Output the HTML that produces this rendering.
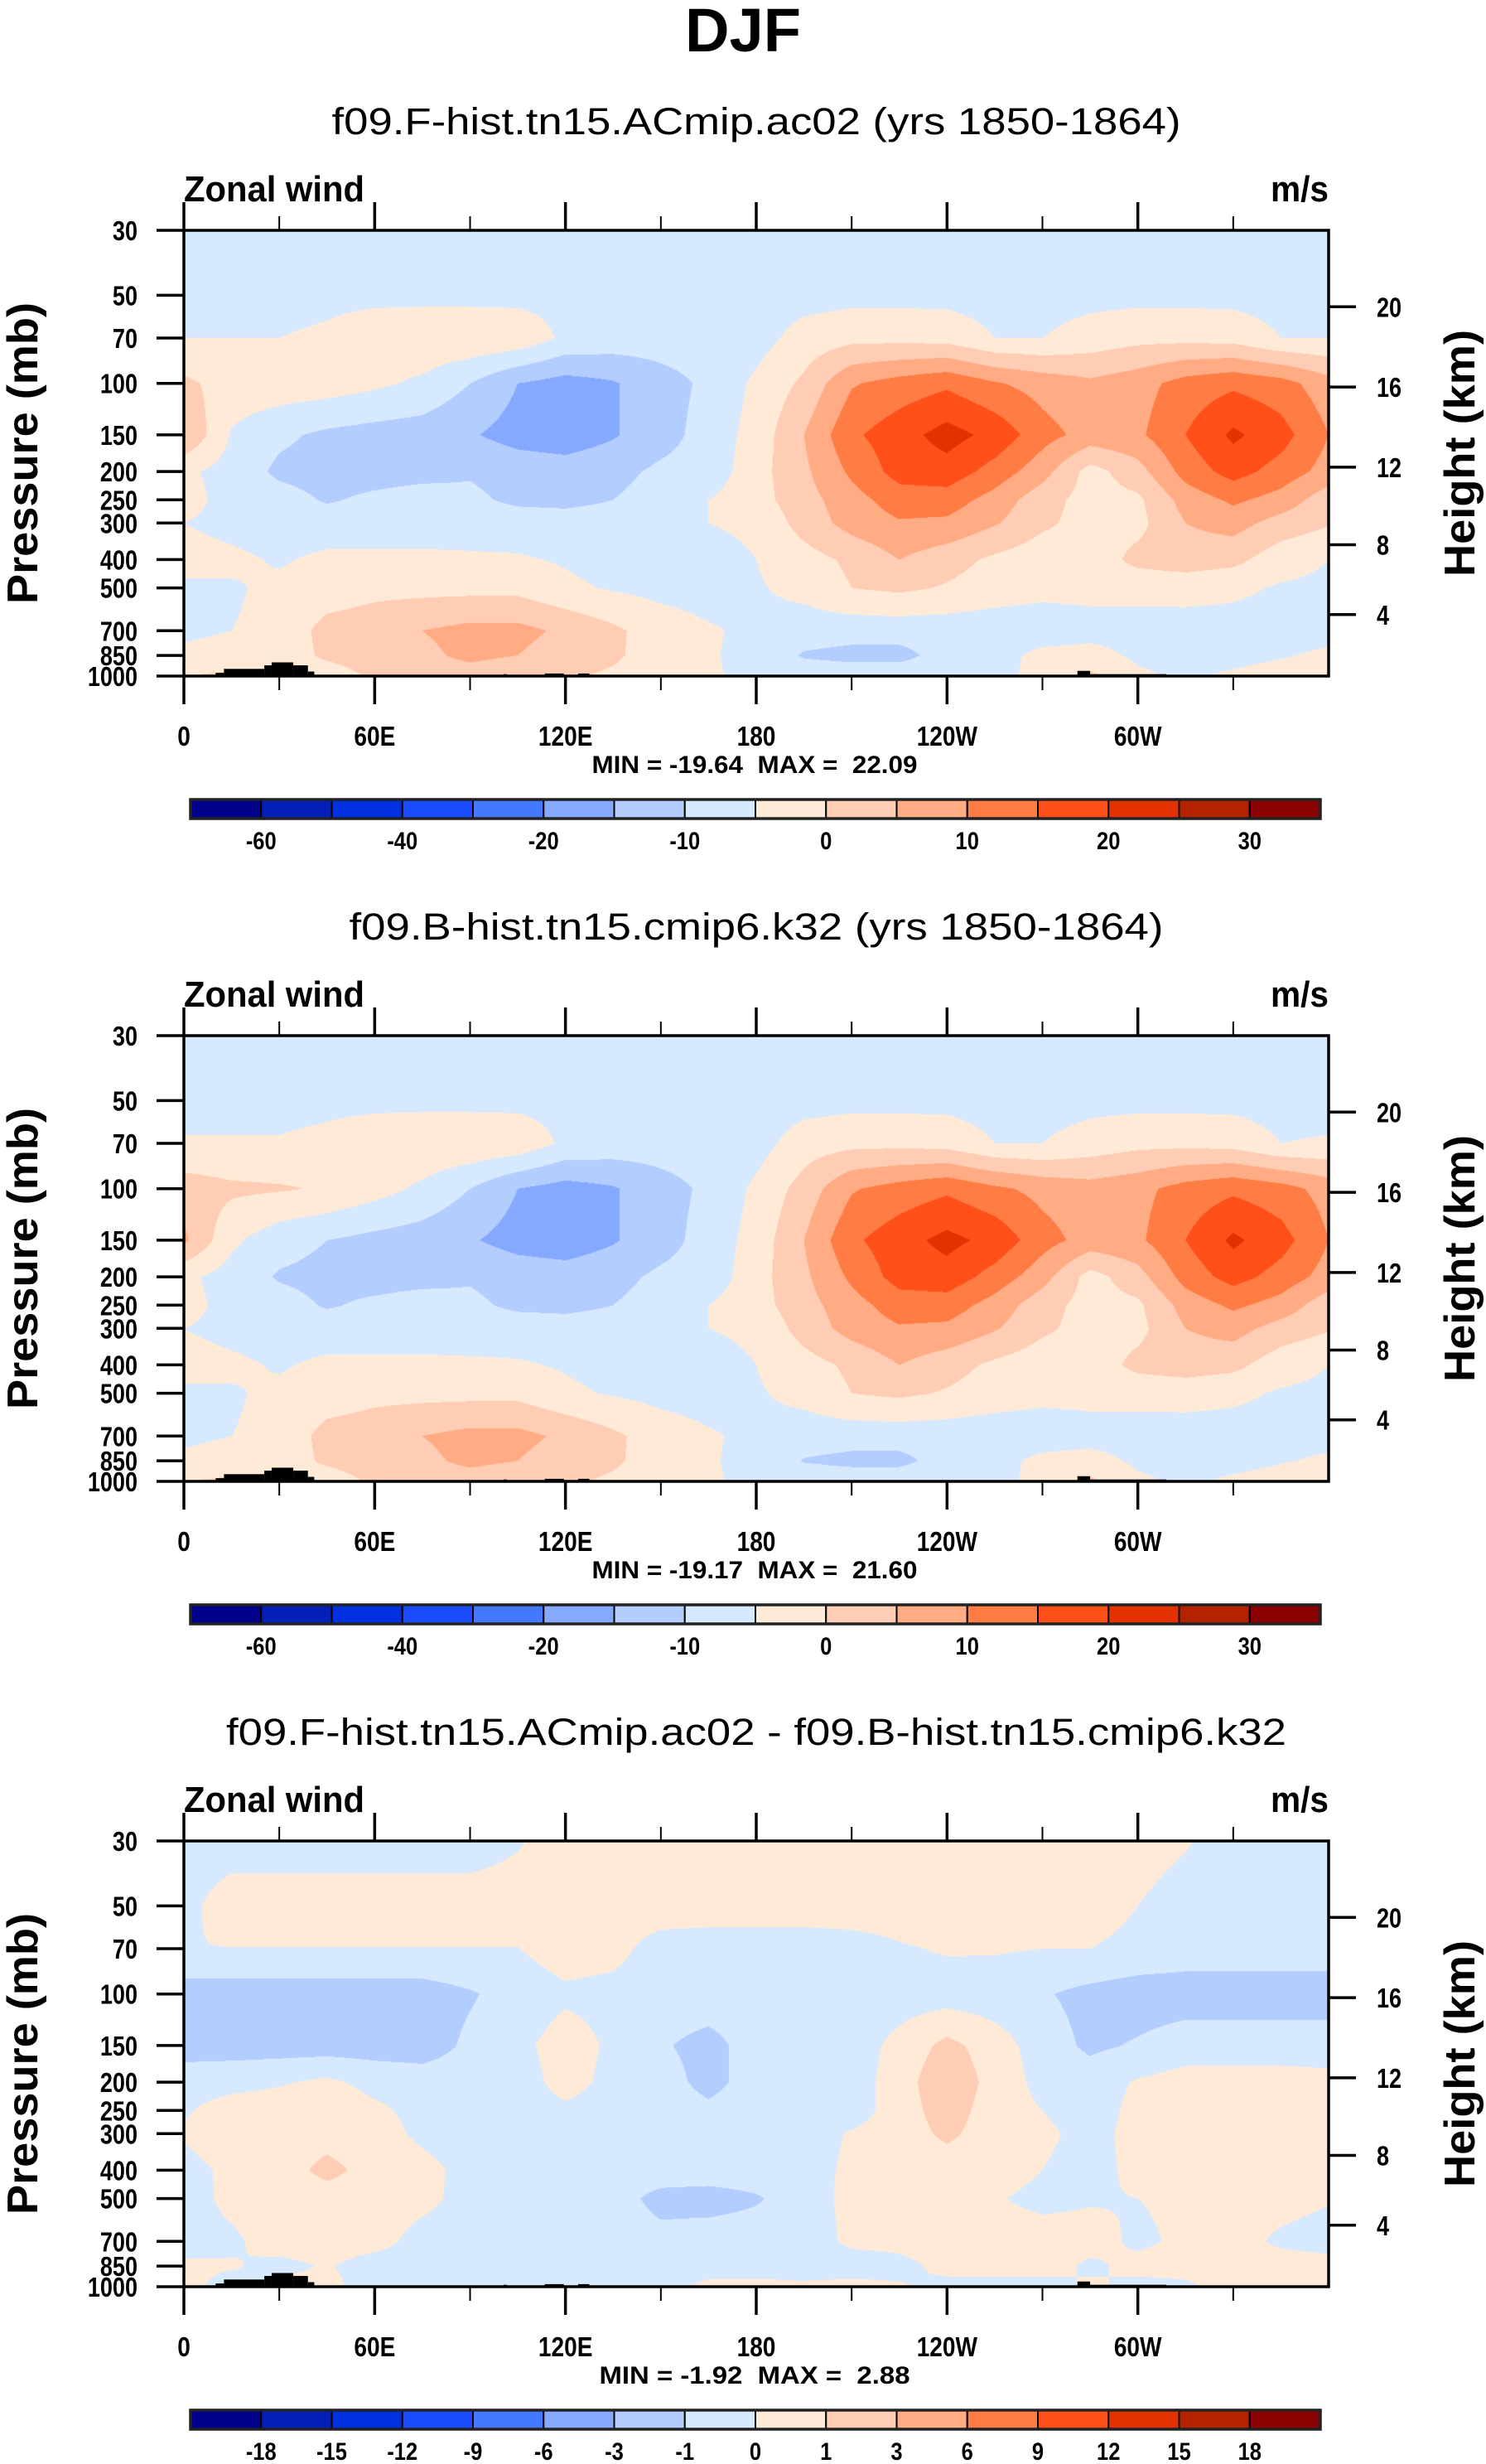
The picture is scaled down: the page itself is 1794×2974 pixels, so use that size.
<!DOCTYPE html>
<html><head><meta charset="utf-8"><style>
html,body{margin:0;padding:0;background:#fff;}
#wrap{position:relative;width:1794px;height:2974px;overflow:hidden;}
canvas{position:absolute;}
svg{position:absolute;left:0;top:0;}
text{font-family:"Liberation Sans",sans-serif;white-space:pre;}
</style></head><body>
<div id="wrap">
<canvas id="c0" width="1382" height="538" style="left:222px;top:278px"></canvas>
<canvas id="c1" width="1382" height="538" style="left:222px;top:1250px"></canvas>
<canvas id="c2" width="1382" height="538" style="left:222px;top:2222px"></canvas>
<svg id="svg" width="1794" height="2974" xmlns="http://www.w3.org/2000/svg">
<text x="897" y="62" text-anchor="middle" font-size="74" font-weight="bold" textLength="140" lengthAdjust="spacingAndGlyphs">DJF</text>
</svg>
</div>
<script>
// ---- data ----
const lons = [0,15,30,45,60,75,90,105,120,135,150,165,180,195,210,225,240,255,270,285,300,315,330,345,360];
const pressures = [30,50,70,100,150,200,250,300,400,500,700,850,1000];
const pTicks = [30,50,70,100,150,200,250,300,400,500,700,850,1000];
const hTicks = [4,8,12,16,20];
const lonTicks = [0,60,120,180,240,300];
const lonTickLabels = ["0","60E","120E","180","120W","60W"];
const lonMinor = [30,90,150,210,270,330];
const colors = ["#00008b","#0320b8","#0030e0","#1a4cff","#4479ff","#84a9ff","#b4cdff","#d6e9ff","#ffead8","#ffccb4","#ffab84","#ff7c45","#ff5019","#e33200","#b52200","#8b0000"];
const levelsA = [-60,-50,-40,-30,-20,-15,-10,-5,0,5,10,15,20,25,30];
const labelsA = ["-60","","-40","","-20","","-10","","0","","10","","20","","30"];
const levelsB = [-18,-15,-12,-9,-6,-3,-1,0,1,3,6,9,12,15,18];
const labelsB = ["-18","-15","-12","-9","-6","-3","-1","0","1","3","6","9","12","15","18"];
const titles = ["f09.F-hist.tn15.ACmip.ac02 (yrs 1850-1864)","f09.B-hist.tn15.cmip6.k32 (yrs 1850-1864)","f09.F-hist.tn15.ACmip.ac02 - f09.B-hist.tn15.cmip6.k32"];
const minmax = ["MIN = -19.64  MAX =  22.09","MIN = -19.17  MAX =  21.60","MIN = -1.92  MAX =  2.88"];
const topo = [[10,12.6,975],[12.6,25.3,945],[25.3,27.6,919],[27.6,34.4,898],[34.4,39,919],[39,41,965],[100.5,101.5,985],[113.5,119.5,980],[124,127.5,980],[281,285,960],[285,309,985]];

const p1 = [
[-8,-8,-8,-8,-8,-8,-8,-8,-8,-8,-8,-8,-8,-8,-8,-8,-8,-8,-8,-8,-8,-8,-8,-8,-8],
[-7,-7,-7,-6.5,-6.5,-6.5,-6.5,-6.5,-6.5,-5.5,-7,-7.5,-7.5,-7,-6.5,-6.5,-6.5,-7,-7,-6.5,-6.5,-6.5,-6.5,-7,-7],
[-5,-5,-5,-4,-1.5,-1,-1,-1.5,-6,-7,-7.5,-7.5,-7,-3,-1.5,-1.5,-2,-5,-5,-3,-1.5,-1.5,-2,-5,-5],
[1,-2,-2,-2.5,-4,-6,-10,-15,-17,-15.5,-12,-9,-4,1,9.5,12,14,10.5,8,6,8,12,14,12,7],
[5,-5.5,-9,-11,-12,-12.5,-14.5,-17,-18,-15.5,-12,-8,-3,5,14,18,22,18.5,12,8,9,15,21,17,10],
[-4,-7,-11,-12,-12,-11.5,-10.5,-12,-12.5,-11.5,-9,-8,-2,4,11,17,18,13,7,-2,3,12,17,13,8],
[-3,-7,-8,-10.5,-9,-8,-9,-11,-11.5,-10,-8,-5,-2,3,8,12.5,12.5,8,2,-2,-1,7,11,8,2],
[-5,-6.5,-7.5,-7.5,-7.5,-7.5,-7.5,-7.5,-7.5,-7.5,-7.5,-5,-4,2,7,9.5,9,5.5,1,-2,-1.5,5,7,3,0.5],
[-3,-4,-5.5,-4,-4,-4,-4.2,-4.5,-5.5,-7,-7.5,-7,-5,-2,1,5,2,-1,-3,-3,1.5,2.5,1.5,-3,-5],
[-6,-5.5,-4,-3,-1.5,-1.5,-1.5,-1.5,-4,-5.5,-6.5,-7,-5.5,-3.5,0,1,-0.5,-2.5,-3.5,-3.5,-3.5,-3,-4,-5.5,-6],
[-6,-5,-4,2,3,5,6.5,6.5,4,1,-2.5,-4.5,-6,-7.5,-8,-8,-8,-8,-8,-7,-7,-7.5,-7,-7,-7],
[-4,-3,-3,1,3,4,6,5,2.5,1,-3,-4.5,-6.5,-10.5,-11.5,-11.5,-8,-7,-3.5,-3,-6,-7,-7,-5.5,-4],
[0,1,1,-3,1,3,3,2,1,-1,-3,-4.5,-6,-7,-7,-7,-7,-7,-3,1,-4,-6,-4,-2.5,-2]
];
const p2 = [
[-8,-8,-8,-8,-8,-8,-8,-8,-8,-8,-8,-8,-8,-8,-8,-8,-8,-8,-8,-8,-8,-8,-8,-8,-8],
[-7,-7,-7,-6.5,-6.5,-6.5,-6.5,-6.5,-6.5,-5.7,-7,-7.5,-7.5,-7,-6.5,-6.5,-6.5,-7,-7,-6.5,-6.5,-6.5,-6.5,-7,-7],
[-4.5,-4.5,-4.5,-3.5,-1.5,-1,-1,-1.5,-6,-7,-7.5,-7.5,-7,-2.5,-1.5,-1.5,-2,-5,-5,-3,-1.5,-1.5,-2,-5,-4.5],
[2.5,1,0.5,-0.5,-3,-6,-10,-15,-17,-15.5,-12,-9,-4,2,9.5,12,14,11,8.5,7,8.5,12,14,12,8],
[6,-4,-8,-10,-11.5,-12.5,-14.5,-17,-18,-15.5,-12,-8,-3,5,14,18,21.5,18.5,12,8,9,15,21,17,10],
[-4,-7,-10.5,-11.5,-12,-11.5,-10.5,-12,-12.5,-11.5,-9,-8,-2,4,11,17,18,13,7,-2,3,12,17,13,8],
[-3,-7,-8,-10.5,-9,-8,-9,-11,-11.5,-10,-8,-5,-2,3,8,12.5,12.5,8,2,-2,-1,7,11,8,2],
[-5,-6.5,-7.5,-7.5,-7.5,-7.5,-7.5,-7.5,-7.5,-7.5,-7.5,-5,-4,2,7,9.5,9,5.5,1,-2,-1.5,5,7,3,0.5],
[-3,-4,-5.5,-4,-4,-4,-4.2,-4.5,-5.5,-7,-7.5,-7,-5,-2,1,5,2,-1,-3,-3,1.5,2.5,1.5,-3,-5],
[-6,-5.5,-4,-3,-1.5,-1.5,-1.5,-1.5,-4,-5.5,-6.5,-7,-5.5,-3.5,0,1,-0.5,-2.5,-3.5,-3.5,-3.5,-3,-4,-5.5,-6],
[-6,-5,-4,2,3,5,6.5,6.5,4,1,-2.5,-4.5,-6,-7.5,-8,-8,-8,-8,-8,-7,-7,-7.5,-7,-7,-7],
[-4,-3,-3,1,3,4,6,5,2.5,1,-3,-4.5,-6.5,-10.3,-11.3,-11.3,-8,-7,-3.5,-3,-6,-7,-7,-5.5,-4],
[0,1,1,-3,1,3,3,2,1,-1,-3,-4.5,-6,-7,-7,-7,-7,-7,-3,1,-4,-6,-4,-2.5,-2]
];
const p3 = [
[-0.5,-0.5,-0.5,-0.5,-0.5,-0.5,-0.5,-0.1,0.5,0.5,0.5,0.5,0.5,0.5,0.5,0.5,0.5,0.5,0.5,0.5,0.5,0.1,-0.5,-0.5,-0.5],
[-0.3,0.5,0.5,0.5,0.5,0.5,0.5,0.5,0.5,0.5,0.5,0.5,0.5,0.5,0.5,0.5,0.5,0.5,0.5,0.5,0.0,-0.5,-0.5,-0.5,-0.5],
[-0.02,-0.02,-0.02,-0.02,-0.02,-0.02,-0.02,-0.02,0.5,0.3,-0.4,-0.5,-0.5,-0.5,-0.4,-0.1,0.1,0.1,0,0,-0.3,-0.5,-0.5,-0.5,-0.5],
[-1.5,-1.5,-1.5,-1.5,-1.5,-1.5,-1.1,-0.6,-0.2,-0.3,-0.5,-0.5,-0.5,-0.5,-0.5,-0.5,-0.5,-0.6,-0.9,-1.3,-1.5,-1.5,-1.5,-1.5,-1.5],
[-1.5,-1.5,-1.5,-1.5,-1.5,-1.5,-0.8,-0.3,0.5,-0.2,-0.9,-1.3,-0.6,-0.8,-0.5,0.3,1.3,0.5,-0.5,-1.2,-0.9,-0.5,-0.5,-0.5,-0.5],
[-0.4,-0.3,-0.1,0.2,-0.3,-0.5,-0.5,-0.5,0.4,-0.3,-0.6,-1.3,-0.6,-0.5,-0.5,0.5,1.8,0.6,-0.3,-0.5,0.1,0.4,0.4,0.4,0.3],
[-0.1,0.4,0.5,0.6,0.2,-0.3,-0.5,-0.5,-0.2,-0.5,-0.5,-0.8,-0.5,-0.5,-0.5,0.5,1.5,0.5,0,-0.5,0.3,0.5,0.5,0.5,0.4],
[0.1,0.5,0.5,0.6,0.4,-0.2,-0.5,-0.5,-0.5,-0.5,-0.5,-0.5,-0.5,-0.5,0.1,0.5,1.2,0.5,0.2,-0.3,0.3,0.5,0.5,0.5,0.5],
[-0.3,0.2,0.5,1.3,0.6,0.3,-0.3,-0.5,-0.5,-0.5,-0.5,-0.5,-0.5,-0.4,0.2,0.5,0.5,0.5,0,-0.4,0.3,0.1,0.5,0.5,0.5],
[-0.5,0.3,0.5,0.5,0.5,0.3,-0.4,-0.5,-0.5,-0.6,-1.3,-1.4,-1.1,-0.5,0.3,0.5,0.4,0.1,-0.3,-0.1,0,0.2,0.5,0.4,0.1],
[-0.5,-0.2,0.5,0.5,0.4,-0.4,-0.5,-0.5,-0.5,-0.5,-0.7,-0.5,-0.5,-0.5,0.2,0.3,0.5,0.5,0.5,0.4,-0.2,0.2,0.4,-0.2,-0.5],
[0.2,0.1,-0.3,0.1,-0.5,-0.5,-0.5,-0.5,-0.5,-0.5,-0.5,-0.5,-0.5,-0.5,-0.5,-0.3,0.3,0.5,0.5,-0.2,0.3,0.4,0.5,0.5,0.5],
[0.3,-0.4,0.3,0.3,-0.5,-0.5,-0.5,-0.5,-0.5,-0.5,-0.5,0.3,0.3,0.2,0.3,0.1,-0.3,-0.5,-0.5,0.2,-0.3,-0.2,0.4,0.5,0.5]
];
const panelData = [p1,p2,p3];

// ---- geometry ----
const PX0=222, PX1=1604, PY0=278, PY1=816, OFF=972;
const W=PX1-PX0, H=PY1-PY0;
function xScale(lon){return PX0 + lon/360*W;}
function pFrac(p){return Math.log(p/30)/Math.log(1000/30);}
function yScale(p,off){return PY0+off+pFrac(p)*H;}
function zToP(zkm){const z=zkm*1000; return z<=11000?1013.25*Math.pow(1-2.25577e-5*z,5.25588):226.32*Math.exp(-(z-11000)/6341.6);}
function hexRGB(h){return [parseInt(h.slice(1,3),16),parseInt(h.slice(3,5),16),parseInt(h.slice(5,7),16)];}
const rgb = colors.map(hexRGB);

function renderField(ci){
  const data=panelData[ci], levels=ci<2?levelsA:levelsB;
  const cv=document.getElementById('c'+ci), ctx=cv.getContext('2d');
  const img=ctx.createImageData(W,H), d=img.data;
  const rowF=pressures.map(p=>pFrac(p)*H);
  const nL=lons.length;
  for(let y=0;y<H;y++){
    let r=0; while(r<rowF.length-2 && rowF[r+1]<y+0.5) r++;
    const ty=Math.min(1,Math.max(0,(y+0.5-rowF[r])/(rowF[r+1]-rowF[r])));
    const A=data[r], B=data[r+1];
    for(let x=0;x<W;x++){
      const lf=(x+0.5)/W*360;
      let c=Math.min(nL-2,Math.floor(lf/15));
      const tx=(lf-lons[c])/(lons[c+1]-lons[c]);
      const v=(A[c]*(1-tx)+A[c+1]*tx)*(1-ty)+(B[c]*(1-tx)+B[c+1]*tx)*ty;
      let k=0; while(k<levels.length && v>=levels[k]) k++;
      const col=rgb[k], i=(y*W+x)*4;
      d[i]=col[0]; d[i+1]=col[1]; d[i+2]=col[2]; d[i+3]=255;
    }
  }
  ctx.putImageData(img,0,0);
}

const svg=document.getElementById('svg'), NS='http://www.w3.org/2000/svg';
function mk(tag,attrs,parent){const e=document.createElementNS(NS,tag);for(const k in attrs)e.setAttribute(k,attrs[k]);(parent||svg).appendChild(e);return e;}
function txt(s,attrs,parent){const e=mk('text',attrs,parent);e.textContent=s;return e;}

for(let pi=0;pi<3;pi++){
  renderField(pi);
  const off=pi*OFF;
  const g=mk('g',{});
  
  
  const tw=[1025,983,1280][pi];
  const t=txt(titles[pi],{x:913,y:162+off,'text-anchor':'middle','font-size':45,textLength:tw,lengthAdjust:'spacingAndGlyphs'},g);
  
  
  const zw=txt('Zonal wind',{x:PX0,y:243+off,'font-size':44,'font-weight':'bold',textLength:218,lengthAdjust:'spacingAndGlyphs'},g);
  
  
  const ms=txt('m/s',{x:PX1,y:243+off,'font-size':44,'font-weight':'bold','text-anchor':'end',textLength:70,lengthAdjust:'spacingAndGlyphs'},g);
  
  
  topo.forEach(tp=>{
    const r=mk('rect',{x:xScale(tp[0]),y:yScale(tp[2],off),width:xScale(tp[1])-xScale(tp[0]),height:PY1+off-yScale(tp[2],off),fill:'#000'},g);
    
    
  });
  const fr=mk('rect',{x:PX0,y:PY0+off,width:W,height:H,fill:'none',stroke:'#000','stroke-width':3.5},g);
  
  
  lonTicks.forEach((lon,i)=>{
    const x=xScale(lon);
    mk('line',{x1:x,x2:x,y1:PY0+off,y2:PY0+off-34,stroke:'#000','stroke-width':3.5},g);
    mk('line',{x1:x,x2:x,y1:PY1+off,y2:PY1+off+34,stroke:'#000','stroke-width':3.5},g);
    const l=txt(lonTickLabels[i],{x:x,y:900+off,'text-anchor':'middle','font-size':33,'font-weight':'bold',transform:`translate(${x},0) scale(0.85,1) translate(${-x},0)`},g);
    
    
  });
  lonMinor.forEach(lon=>{
    const x=xScale(lon);
    mk('line',{x1:x,x2:x,y1:PY0+off,y2:PY0+off-17,stroke:'#000','stroke-width':2},g);
    mk('line',{x1:x,x2:x,y1:PY1+off,y2:PY1+off+17,stroke:'#000','stroke-width':2},g);
  });
  pTicks.forEach(p=>{
    const y=yScale(p,off);
    mk('line',{x1:PX0-33,x2:PX0,y1:y,y2:y,stroke:'#000','stroke-width':3.5},g);
    const l=txt(String(p),{x:166,y:y+12,'text-anchor':'end','font-size':33,'font-weight':'bold',transform:`translate(166,0) scale(0.82,1) translate(-166,0)`},g);
    
    
  });
  hTicks.forEach(h=>{
    const y=yScale(zToP(h),off);
    mk('line',{x1:PX1,x2:PX1+33,y1:y,y2:y,stroke:'#000','stroke-width':3.5},g);
    const l=txt(String(h),{x:1662,y:y+12,'font-size':33,'font-weight':'bold',transform:`translate(1662,0) scale(0.82,1) translate(-1662,0)`},g);
    
    
  });
  const cy=(PY0+PY1)/2+off;
  const yl=txt('Pressure (mb)',{x:0,y:0,'text-anchor':'middle','font-size':52,'font-weight':'bold',textLength:364,lengthAdjust:'spacingAndGlyphs',transform:`translate(45,${cy}) rotate(-90)`},g);
  
  
  const yr=txt('Height (km)',{x:0,y:0,'text-anchor':'middle','font-size':52,'font-weight':'bold',textLength:298,lengthAdjust:'spacingAndGlyphs',transform:`translate(1780,${cy}) rotate(-90)`},g);
  
  
  const mm=txt(minmax[pi],{x:911,y:933+off,'text-anchor':'middle','font-size':30,'font-weight':'bold',textLength:pi<2?393:375,lengthAdjust:'spacingAndGlyphs'},g);
  
  
  const CB0=230, CB1=1594, CBY=965+off, CBH=23, bw=(CB1-CB0)/16;
  const labels=pi<2?labelsA:labelsB;
  colors.forEach((c,i)=>{
    const r=mk('rect',{x:CB0+i*bw,y:CBY,width:bw,height:CBH,fill:c,stroke:'#000','stroke-width':2},g);
    
    
  });
  mk('rect',{x:CB0,y:CBY,width:CB1-CB0,height:CBH,fill:'none',stroke:'#222','stroke-width':3.5},g);
  labels.forEach((s,i)=>{
    if(!s) return;
    const x=CB0+(i+1)*bw;
    const l=txt(s,{x:x,y:CBY+60,'text-anchor':'middle','font-size':30,'font-weight':'bold',transform:`translate(${x},0) scale(0.85,1) translate(${-x},0)`},g);
    
    
  });
}
</script>
</body></html>
